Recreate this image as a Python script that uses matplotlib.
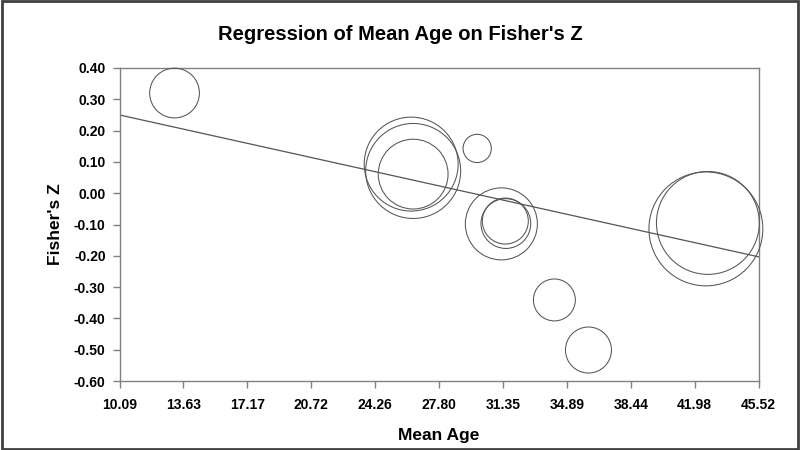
import matplotlib
matplotlib.use("Agg")
import matplotlib.pyplot as plt
from matplotlib.patches import Rectangle
import numpy as np

plt.rcParams['font.family'] = ['Liberation Sans', 'DejaVu Sans']

# Data
mean_age = [13.14, 26.26, 26.37, 26.37, 29.92, 31.26, 31.48, 31.51, 34.20, 36.09, 42.60, 42.71]
fisher_z = [0.320, 0.093, 0.071, 0.061, 0.143, -0.098, -0.089, -0.097, -0.341, -0.501, -0.114, -0.095]
weights = [62, 221, 226, 122, 20, 130, 53, 62, 44, 53, 325, 265]

reg_intercept = 0.379
reg_slope = -0.01279

x_ticks = [10.09, 13.63, 17.17, 20.72, 24.26, 27.80, 31.35, 34.89, 38.44, 41.98, 45.52]
x_tick_labels = ["10.09", "13.63", "17.17", "20.72", "24.26", "27.80", "31.35", "34.89", "38.44", "41.98", "45.52"]
y_ticks = [-0.60, -0.50, -0.40, -0.30, -0.20, -0.10, 0.00, 0.10, 0.20, 0.30, 0.40]
y_tick_labels = ["-0.60", "-0.50", "-0.40", "-0.30", "-0.20", "-0.10", "0.00", "0.10", "0.20", "0.30", "0.40"]

fig = plt.figure(figsize=(8, 4.5), dpi=100)
fig.patch.set_facecolor('white')
ax = fig.add_axes([0.1494, 0.1533, 0.7988, 0.6956])

sizes = [w * 20.7 for w in weights]
ax.scatter(mean_age, fisher_z, s=sizes, facecolors='none', edgecolors='#555555',
           linewidths=0.75, clip_on=False, zorder=3)

xl = np.array([x_ticks[0], x_ticks[-1]])
ax.plot(xl, reg_intercept + reg_slope * xl, color='#555555', linewidth=0.9, zorder=2)

ax.set_xlim(x_ticks[0], x_ticks[-1])
ax.set_ylim(y_ticks[0], y_ticks[-1])
ax.set_xticks(x_ticks)
ax.set_xticklabels(x_tick_labels)
ax.set_yticks(y_ticks)
ax.set_yticklabels(y_tick_labels)

for sp in ax.spines.values():
    sp.set_color('#808080')
    sp.set_linewidth(1.0)

ax.tick_params(axis='both', direction='out', length=5, width=1.0, color='#808080',
               labelsize=10, top=False, right=False)
ax.tick_params(axis='x', pad=7.5)
ax.tick_params(axis='y', pad=5)
for lbl in ax.get_xticklabels() + ax.get_yticklabels():
    lbl.set_fontweight('bold')

ax.set_xlabel("Mean Age", fontsize=12.5, fontweight='bold', labelpad=11)
ax.set_ylabel("Fisher's Z", fontsize=12.5, fontweight='bold', labelpad=8)
fig.text(0.5, 1 - 35 / 450, "Regression of Mean Age on Fisher's Z", ha='center', va='center',
         fontsize=14.5, fontweight='bold')

fig.patches.append(Rectangle((0.002, 0.003), 0.996, 0.994, transform=fig.transFigure,
                             fill=False, edgecolor='#404040', linewidth=2.0))

fig.savefig("out.png", dpi=100)
